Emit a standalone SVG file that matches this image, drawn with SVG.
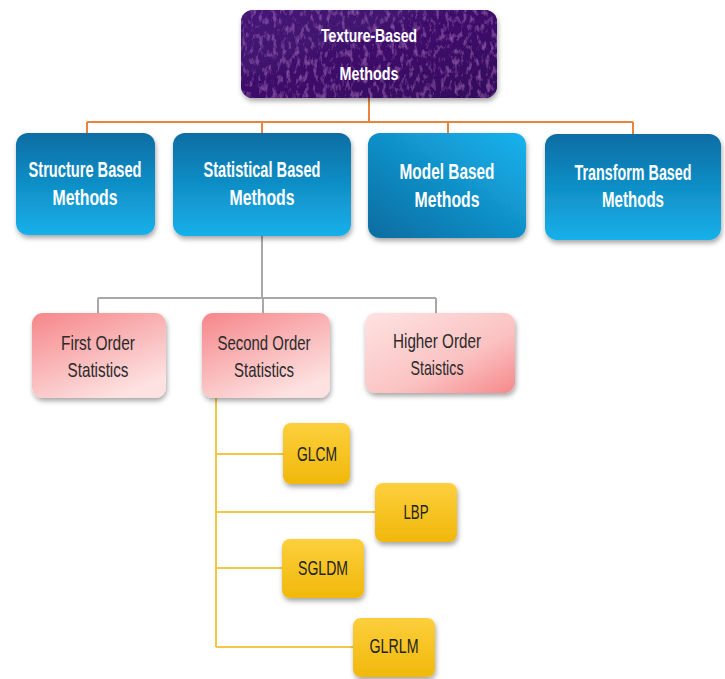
<svg xmlns="http://www.w3.org/2000/svg" width="725" height="679" viewBox="0 0 725 679">
<defs>
<linearGradient id="gBlue" x1="0" y1="0" x2="0" y2="1"><stop offset="0" stop-color="#0a6da3"/><stop offset="1" stop-color="#17b0ea"/></linearGradient>
<linearGradient id="gBlueD" x1="1" y1="0" x2="0" y2="1"><stop offset="0" stop-color="#17b3ee"/><stop offset="1" stop-color="#0a6ca0"/></linearGradient>
<linearGradient id="gPink" x1="0" y1="0" x2="0.6" y2="1"><stop offset="0" stop-color="#f6868a"/><stop offset="1" stop-color="#fde2e1"/></linearGradient>
<linearGradient id="gPinkR" x1="0" y1="0" x2="1" y2="1"><stop offset="0" stop-color="#fde3e2"/><stop offset="0.6" stop-color="#fbc2c2"/><stop offset="1" stop-color="#f6898b"/></linearGradient>
<linearGradient id="gYel" x1="0" y1="0" x2="0" y2="1"><stop offset="0" stop-color="#fccf3c"/><stop offset="1" stop-color="#f1b80b"/></linearGradient>
<linearGradient id="gPur" x1="0" y1="0" x2="1" y2="1"><stop offset="0" stop-color="#451577"/><stop offset="1" stop-color="#340c5c"/></linearGradient>
<filter id="sh" x="-10%" y="-10%" width="120%" height="130%"><feDropShadow dx="1" dy="3" stdDeviation="2.5" flood-color="#000" flood-opacity="0.35"/></filter>
<filter id="tex" x="0" y="0" width="100%" height="100%">
<feTurbulence type="fractalNoise" baseFrequency="0.22 0.12" numOctaves="3" seed="7" result="n"/>
<feColorMatrix in="n" type="matrix" values="0 0 0 0 0.42  0 0 0 0 0.14  0 0 0 0 0.6  0 0 0 1.4 -0.7" result="c"/>
<feComposite in="c" in2="SourceGraphic" operator="in" result="ci"/>
<feMerge><feMergeNode in="SourceGraphic"/><feMergeNode in="ci"/></feMerge>
</filter>
</defs>
<style>
.tw{font-family:"Liberation Sans",Arial,sans-serif;font-weight:bold;fill:#fff;text-anchor:middle;}
.tp{font-family:"Liberation Sans",Arial,sans-serif;fill:#2a2a2a;text-anchor:middle;}
.ty{font-family:"Liberation Sans",Arial,sans-serif;fill:#222;text-anchor:middle;}
.co{fill:none;stroke:#e8843e;stroke-width:2;}
.cg{fill:none;stroke:#a8a8a8;stroke-width:2;}
.cy{fill:none;stroke:#f2c744;stroke-width:2;}
</style>
<g id="connectors">
<path class="co" d="M369 98 V122 M87 122 H633 M87 122 V133 M262 122 V133 M448 122 V133 M633 122 V134"/>
<path class="cg" d="M262 236 V298 M98 298 H436 M98 298 V313 M263 298 V313 M436 298 V313"/>
<path class="cy" d="M216 398 V647 M216 454 H283 M216 512 H375 M216 568 H283 M216 647 H353"/>
</g>
<g id="texture-based">
<rect x="241" y="10" width="256" height="88" rx="12" fill="url(#gPur)" filter="url(#sh)"/>
<rect x="241" y="10" width="256" height="88" rx="12" fill="url(#gPur)" filter="url(#tex)"/>
<text class="tw" x="369" y="42" font-size="19" textLength="96" lengthAdjust="spacingAndGlyphs">Texture-Based</text>
<text class="tw" x="369" y="80" font-size="19" textLength="59" lengthAdjust="spacingAndGlyphs">Methods</text>
</g>
<g id="structure">
<rect x="16" y="133" width="139" height="102" rx="12" fill="url(#gBlue)" filter="url(#sh)"/>
<text class="tw" x="85" y="177" font-size="21.5" textLength="113" lengthAdjust="spacingAndGlyphs">Structure Based</text>
<text class="tw" x="85" y="205" font-size="21.5" textLength="65" lengthAdjust="spacingAndGlyphs">Methods</text>
</g>
<g id="statistical">
<rect x="173" y="133" width="178" height="103" rx="12" fill="url(#gBlue)" filter="url(#sh)"/>
<text class="tw" x="262" y="177" font-size="21.5" textLength="117" lengthAdjust="spacingAndGlyphs">Statistical Based</text>
<text class="tw" x="262" y="205" font-size="21.5" textLength="65" lengthAdjust="spacingAndGlyphs">Methods</text>
</g>
<g id="model">
<rect x="368" y="133" width="158" height="105" rx="12" fill="url(#gBlueD)" filter="url(#sh)"/>
<text class="tw" x="447" y="179" font-size="21.5" textLength="95" lengthAdjust="spacingAndGlyphs">Model Based</text>
<text class="tw" x="447" y="207" font-size="21.5" textLength="65" lengthAdjust="spacingAndGlyphs">Methods</text>
</g>
<g id="transform">
<rect x="545" y="134" width="176" height="106" rx="12" fill="url(#gBlue)" filter="url(#sh)"/>
<text class="tw" transform="translate(633 180) scale(0.667 1)" x="0" y="0" font-size="21.5">Transform Based</text>
<text class="tw" x="633" y="207" font-size="21.5" textLength="62" lengthAdjust="spacingAndGlyphs">Methods</text>
</g>
<g id="first-order">
<rect x="32" y="313" width="134" height="85" rx="11" fill="url(#gPink)" filter="url(#sh)"/>
<text class="tp" x="98" y="350" font-size="21" textLength="74" lengthAdjust="spacingAndGlyphs">First Order</text>
<text class="tp" x="98" y="377" font-size="21" textLength="61" lengthAdjust="spacingAndGlyphs">Statistics</text>
</g>
<g id="second-order">
<rect x="202" y="313" width="128" height="85" rx="11" fill="url(#gPink)" filter="url(#sh)"/>
<text class="tp" x="264" y="350" font-size="21" textLength="93" lengthAdjust="spacingAndGlyphs">Second Order</text>
<text class="tp" x="264" y="377" font-size="21" textLength="60" lengthAdjust="spacingAndGlyphs">Statistics</text>
</g>
<g id="higher-order">
<rect x="365" y="313" width="150" height="80" rx="11" fill="url(#gPinkR)" filter="url(#sh)"/>
<text class="tp" x="437" y="348" font-size="21" textLength="88" lengthAdjust="spacingAndGlyphs">Higher Order</text>
<text class="tp" x="437" y="375" font-size="21" textLength="53" lengthAdjust="spacingAndGlyphs">Staistics</text>
</g>
<g id="glcm">
<rect x="283" y="423" width="67" height="61" rx="8" fill="url(#gYel)" filter="url(#sh)"/>
<text class="ty" x="317" y="461" font-size="20" textLength="40" lengthAdjust="spacingAndGlyphs">GLCM</text>
</g>
<g id="lbp">
<rect x="375" y="483" width="82" height="59" rx="8" fill="url(#gYel)" filter="url(#sh)"/>
<text class="ty" x="416" y="519" font-size="20" textLength="25" lengthAdjust="spacingAndGlyphs">LBP</text>
</g>
<g id="sgldm">
<rect x="282" y="539" width="82" height="59" rx="8" fill="url(#gYel)" filter="url(#sh)"/>
<text class="ty" x="323" y="575" font-size="20" textLength="50" lengthAdjust="spacingAndGlyphs">SGLDM</text>
</g>
<g id="glrlm">
<rect x="353" y="618" width="82" height="59" rx="8" fill="url(#gYel)" filter="url(#sh)"/>
<text class="ty" x="394" y="653" font-size="20" textLength="49" lengthAdjust="spacingAndGlyphs">GLRLM</text>
</g>
</svg>
